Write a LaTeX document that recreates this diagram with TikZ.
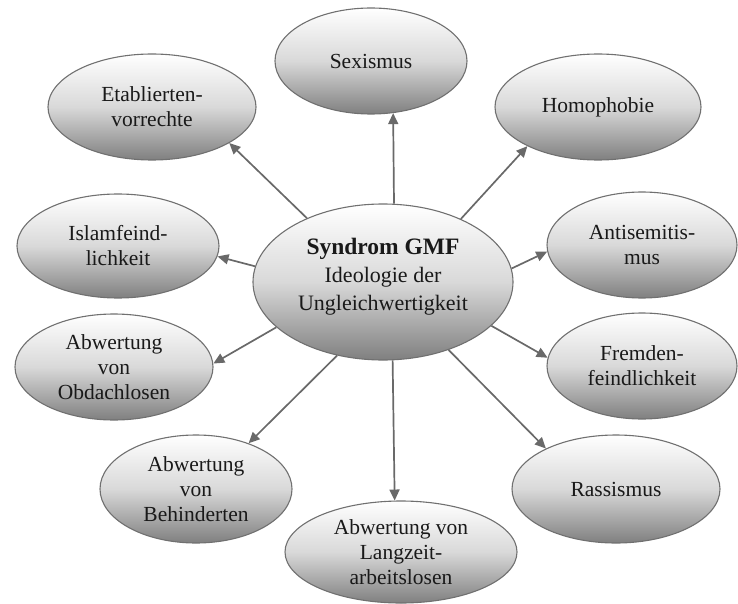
\documentclass[tikz,border=0pt]{standalone}
\usepackage{fontspec}
\setmainfont{Liberation Serif}
\usetikzlibrary{shapes.geometric,arrows.meta}
\definecolor{edgegray}{RGB}{112,112,112}
\definecolor{arrowgray}{RGB}{105,105,105}
\definecolor{txt}{RGB}{25,25,25}
\tikzset{
  bubble/.style 2 args={ellipse, draw=edgegray, line width=1.1pt,
    top color=white, bottom color=black!50, middle color=gray!30,
    inner sep=0pt, minimum width=#1pt, minimum height=#2pt,
    align=center, text=txt, font=\fontsize{21.5}{25}\selectfont},
  arr/.style={draw=arrowgray, line width=1.7pt,
    -{Triangle[length=11pt,width=10pt]}}
}
\begin{document}
\begin{tikzpicture}[x=1pt,y=-1pt]
\useasboundingbox (0,0) rectangle (738,604);
\node[bubble={260}{156}, font=\fontsize{22}{28}\selectfont] (c) at (383,282)
  {{\fontsize{23.5}{28}\selectfont\bfseries Syndrom GMF}\\Ideologie der\\Ungleichwertigkeit\rule[-16pt]{0pt}{0pt}};
\node[bubble={192}{106}] (sex) at (371,61) {Sexismus};
\node[bubble={206}{106}] (hom) at (598,107) {Homophobie};
\node[bubble={208}{106}] (eta) at (152,107) {Etablierten-\\vorrechte};
\node[bubble={202}{104}] (isl) at (118,246) {Islamfeind-\\lichkeit};
\node[bubble={198}{106}] (obd) at (114,367) {Abwertung\\von\\Obdachlosen};
\node[bubble={190}{106}] (ant) at (642,245) {Antisemitis-\\mus};
\node[bubble={190}{106}] (fre) at (642,366) {Fremden-\\feindlichkeit};
\node[bubble={208}{108}] (ras) at (616,489) {Rassismus};
\node[bubble={192}{108}] (beh) at (196,489) {Abwertung\\von\\Behinderten};
\node[bubble={232}{102}] (lan) at (401,552) {Abwertung von\\Langzeit-\\arbeitslosen};
\draw[arr] (c.82.6) -- (sex.-67.8);
\draw[arr] (c.39.1) -- (hom.209.4);
\draw[arr] (c.140.6) -- (eta.-25.1);
\draw[arr] (c.173.6) -- (isl.-6);
\draw[arr] (c.203) -- (obd.2.6);
\draw[arr] (c.238.5) -- (beh.41.2);
\draw[arr] (c.277.3) -- (lan.97.6);
\draw[arr] (c.-46.3) -- (ras.150);
\draw[arr] (c.-22.2) -- (fre.175.3);
\draw[arr] (c.6.2) -- (ant.184.1);
\end{tikzpicture}
\end{document}
